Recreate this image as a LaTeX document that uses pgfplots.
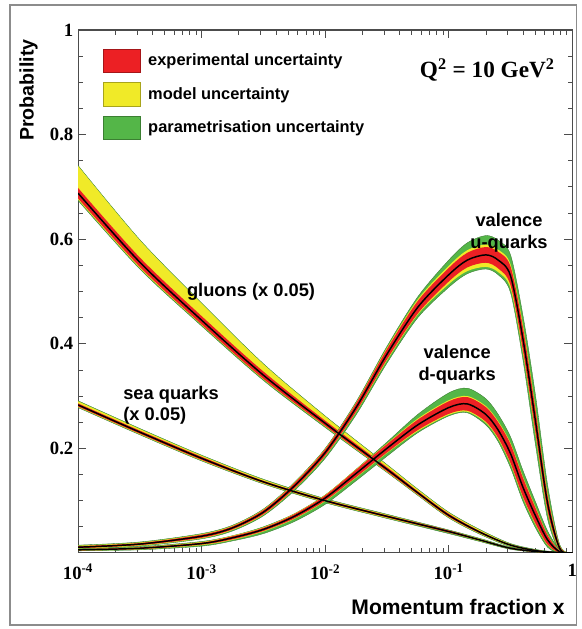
\documentclass[border=0pt]{standalone}
\usepackage{fontspec}
\setmainfont{Liberation Serif}
\setsansfont{Liberation Sans}
\usepackage{pgfplots}
\usepackage{pgfplotstable}
\pgfplotsset{compat=1.18}
\usepgfplotslibrary{fillbetween}

\definecolor{expred}{RGB}{236,32,36}
\definecolor{modyel}{RGB}{240,234,40}
\definecolor{pargrn}{RGB}{84,182,72}

% columns: x, central value, then lower/upper band offsets (exp, model, param)
\pgfplotstableread{
x        c      rl    rh    yl    yh    gl    gh
1e-4     0.688  0.010 0.010 0.012 0.052 0.014 0.053
3.162e-4 0.556  0.009 0.009 0.011 0.042 0.013 0.043
1e-3     0.445  0.008 0.008 0.009 0.032 0.011 0.033
3.162e-3 0.340  0.007 0.007 0.008 0.021 0.010 0.022
1e-2     0.248  0.005 0.005 0.006 0.013 0.008 0.014
3.162e-2 0.160  0.004 0.004 0.005 0.008 0.006 0.009
5.623e-2 0.115  0.003 0.003 0.004 0.006 0.005 0.007
0.1      0.072  0.003 0.003 0.004 0.005 0.005 0.006
0.1778   0.040  0.002 0.002 0.003 0.004 0.004 0.005
0.3162   0.015  0.001 0.001 0.002 0.002 0.003 0.003
0.5623   0.003  0.001 0.001 0.001 0.001 0.002 0.002
1        0      0     0     0     0     0     0
}\gluon

\pgfplotstableread{
x        c      rl    rh    yl    yh    gl    gh
1e-4     0.283  0.003 0.003 0.004 0.007 0.005 0.008
3.162e-4 0.231  0.003 0.003 0.004 0.006 0.005 0.007
1e-3     0.181  0.003 0.003 0.004 0.005 0.005 0.006
3.162e-3 0.136  0.002 0.002 0.003 0.004 0.004 0.005
1e-2     0.100  0.002 0.002 0.003 0.003 0.004 0.004
3.162e-2 0.070  0.002 0.002 0.003 0.003 0.004 0.004
0.1      0.041  0.002 0.002 0.002 0.002 0.004 0.003
0.1778   0.025  0.001 0.001 0.002 0.002 0.003 0.003
0.3162   0.009  0.001 0.001 0.001 0.001 0.002 0.002
0.5623   0.002  0.001 0.001 0.001 0.001 0.001 0.001
1        0      0     0     0     0     0     0
}\sea

\pgfplotstableread{
x        c      rl    rh    yl    yh    gl    gh
1e-4     0.011  0.002 0.002 0.003 0.003 0.004 0.004
3.162e-4 0.017  0.002 0.002 0.003 0.003 0.004 0.004
1e-3     0.032  0.003 0.003 0.004 0.004 0.005 0.005
1.778e-3 0.048  0.003 0.003 0.004 0.004 0.006 0.005
3.162e-3 0.078  0.004 0.004 0.005 0.005 0.007 0.006
5.623e-3 0.128  0.005 0.005 0.006 0.006 0.009 0.007
1e-2     0.192  0.006 0.006 0.007 0.007 0.011 0.008
1.778e-2 0.278  0.008 0.008 0.009 0.009 0.014 0.011
3.162e-2 0.380  0.010 0.010 0.012 0.012 0.017 0.015
5.623e-2 0.470  0.012 0.012 0.014 0.015 0.020 0.020
0.1      0.532  0.013 0.013 0.018 0.017 0.024 0.028
0.1413   0.560  0.014 0.014 0.021 0.019 0.026 0.033
0.1995   0.570  0.015 0.015 0.023 0.020 0.027 0.037
0.2512   0.560  0.016 0.016 0.023 0.020 0.028 0.038
0.3162   0.530  0.018 0.018 0.024 0.022 0.032 0.040
0.3981   0.410  0.022 0.022 0.027 0.027 0.040 0.045
0.5012   0.255  0.022 0.022 0.026 0.026 0.045 0.050
0.6310   0.095  0.015 0.015 0.018 0.018 0.030 0.035
0.7943   0.008  0.004 0.004 0.005 0.005 0.006 0.007
1        0      0     0     0     0     0     0
}\uval

\pgfplotstableread{
x        c      rl     rh     yl     yh     gl    gh
1e-4     0.006  0.001  0.001  0.0015 0.0015 0.002 0.002
3.162e-4 0.009  0.0015 0.0015 0.002  0.002  0.003 0.003
1e-3     0.018  0.002  0.002  0.003  0.003  0.005 0.004
1.778e-3 0.029  0.003  0.003  0.004  0.004  0.006 0.004
3.162e-3 0.045  0.003  0.003  0.004  0.004  0.008 0.005
5.623e-3 0.070  0.004  0.004  0.005  0.005  0.010 0.005
1e-2     0.105  0.005  0.005  0.006  0.006  0.012 0.006
1.778e-2 0.152  0.007  0.007  0.008  0.008  0.014 0.008
3.162e-2 0.200  0.008  0.008  0.009  0.009  0.015 0.012
5.623e-2 0.245  0.010  0.010  0.012  0.012  0.015 0.020
0.1      0.278  0.012  0.012  0.014  0.014  0.016 0.028
0.1413   0.285  0.013  0.013  0.015  0.015  0.017 0.030
0.1995   0.265  0.014  0.014  0.016  0.016  0.020 0.030
0.2512   0.235  0.015  0.015  0.017  0.017  0.022 0.030
0.3162   0.190  0.018  0.018  0.020  0.020  0.027 0.032
0.3981   0.126  0.018  0.018  0.020  0.020  0.027 0.032
0.5012   0.072  0.015  0.015  0.017  0.017  0.023 0.027
0.6310   0.025  0.009  0.009  0.010  0.010  0.014 0.017
0.7943   0.002  0.002  0.002  0.002  0.002  0.003 0.004
1        0      0      0      0      0      0     0
}\dval

% one PDF: three nested bands plus the central line
\newcommand{\pdfband}[2]{%
  \addplot[draw=none, smooth, name path=#2gl, forget plot] table[x=x, y expr=\thisrow{c}-\thisrow{gl}] {#1};
  \addplot[draw=none, smooth, name path=#2gh, forget plot] table[x=x, y expr=\thisrow{c}+\thisrow{gh}] {#1};
  \addplot[draw=none, smooth, name path=#2yl, forget plot] table[x=x, y expr=\thisrow{c}-\thisrow{yl}] {#1};
  \addplot[draw=none, smooth, name path=#2yh, forget plot] table[x=x, y expr=\thisrow{c}+\thisrow{yh}] {#1};
  \addplot[draw=none, smooth, name path=#2rl, forget plot] table[x=x, y expr=\thisrow{c}-\thisrow{rl}] {#1};
  \addplot[draw=none, smooth, name path=#2rh, forget plot] table[x=x, y expr=\thisrow{c}+\thisrow{rh}] {#1};
  \addplot[fill=pargrn, draw=pargrn!65!black, line width=0.25pt, forget plot] fill between[of=#2gh and #2gl];
  \addplot[modyel, forget plot] fill between[of=#2yh and #2yl];
  \addplot[expred, forget plot] fill between[of=#2rh and #2rl];
  \addplot[black, line width=1.1pt, smooth, forget plot] table[x=x, y=c] {#1};
}

\begin{document}
\begin{tikzpicture}
\begin{axis}[
  name=ax,
  scale only axis,
  width=370.5pt, height=392pt,
  xmode=log,
  xmin=1e-4, xmax=1, ymin=0, ymax=1,
  xtick={1e-4,1e-3,1e-2,1e-1,1},
  xticklabels={10\textsuperscript{-4},10\textsuperscript{-3},10\textsuperscript{-2},10\textsuperscript{-1},1},
  minor xtick={2e-4,3e-4,4e-4,5e-4,6e-4,7e-4,8e-4,9e-4,
               2e-3,3e-3,4e-3,5e-3,6e-3,7e-3,8e-3,9e-3,
               2e-2,3e-2,4e-2,5e-2,6e-2,7e-2,8e-2,9e-2,
               0.2,0.3,0.4,0.5,0.6,0.7,0.8,0.9},
  ytick={0.2,0.4,0.6,0.8,1},
  yticklabels={0.2,0.4,0.6,0.8,1},
  minor ytick={0.05,0.1,0.15,0.25,0.3,0.35,0.45,0.5,0.55,0.65,0.7,0.75,0.85,0.9,0.95},
  tick align=inside,
  major tick length=6pt,
  minor tick length=3.5pt,
  tick style={black!70, line width=0.6pt},
  axis line style={black!70, line width=0.8pt},
  ticklabel style={font=\bfseries\fontsize{14}{16}\selectfont},
  xticklabel style={yshift=-5pt},
  xlabel={Momentum fraction x},
  xlabel style={font=\sffamily\bfseries\fontsize{15.8}{18}\selectfont,
                at={(axis description cs:0.994,-0.08)}, anchor=north east},
  ylabel={Probability},
  ylabel style={font=\sffamily\bfseries\fontsize{14.7}{17}\selectfont,
                at={(axis description cs:-0.10,0.885)}, anchor=center},
  legend image code/.code={\draw[#1] (0pt,-8.7pt) rectangle (28pt,8.7pt); \path (31.5pt,0pt);},
  legend style={draw=none, fill=none, inner sep=0pt,
                at={(axis description cs:0.05,0.965)}, anchor=north west,
                row sep=7.5pt,
                font=\sffamily\bfseries\fontsize{12.3}{14}\selectfont},
  legend cell align=left,
]
\addlegendimage{fill=expred, draw=expred!70!black}
\addlegendimage{fill=modyel, draw=modyel!70!black}
\addlegendimage{fill=pargrn, draw=pargrn!70!black}
\legend{experimental uncertainty, model uncertainty, parametrisation uncertainty}

\pdfband{\gluon}{glu}
\pdfband{\sea}{sea}
\pdfband{\uval}{uv}
\pdfband{\dval}{dv}

\node[font=\sffamily\bfseries\fontsize{13.7}{16}\selectfont] at (rel axis cs:0.35,0.499) {gluons (x 0.05)};
\node[font=\sffamily\bfseries\fontsize{13.7}{16}\selectfont, align=left, anchor=west, inner sep=0pt] at (rel axis cs:0.091,0.283) {sea quarks\\(x 0.05)};
\node[font=\sffamily\bfseries\fontsize{13.7}{16}\selectfont, align=center] at (rel axis cs:0.872,0.612) {valence\\u-quarks};
\node[font=\sffamily\bfseries\fontsize{13.7}{16}\selectfont, align=center] at (rel axis cs:0.767,0.36) {valence\\d-quarks};
\node[font=\bfseries\fontsize{17.4}{20}\selectfont] at (rel axis cs:0.828,0.923) {Q\textsuperscript{2} = 10 GeV\textsuperscript{2}};
\end{axis}
\draw[black!45, line width=1pt] ([xshift=-51pt, yshift=-54pt]ax.south west) rectangle ([xshift=3pt, yshift=18.75pt]ax.north east);
\path ([xshift=-58.5pt, yshift=-57pt]ax.south west) rectangle ([xshift=5.25pt, yshift=22.5pt]ax.north east);
\end{tikzpicture}
\end{document}
